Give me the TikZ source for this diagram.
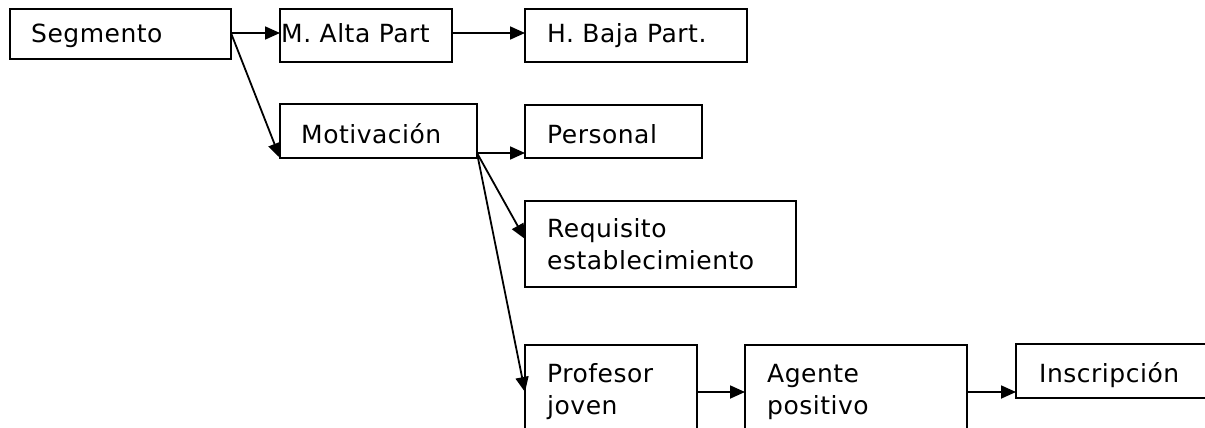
\documentclass[tikz,border=0pt]{standalone}
\usepackage{fontspec}
\setmainfont{DejaVu Sans}[LetterSpace=2]
\usetikzlibrary{arrows.meta}
\begin{document}
\begin{tikzpicture}[x=1pt,y=-1pt,
  box/.style={draw, line width=2pt, rectangle, inner sep=0pt, outer sep=0pt, anchor=north west},
  lbl/.style={anchor=base west, inner sep=0pt, font=\fontsize{25}{32}\selectfont},
  conn/.style={line width=1.8pt, -{Triangle[length=15pt,width=13pt]}}]
\useasboundingbox (0,0) rectangle (1205,428);
\clip (0,0) rectangle (1205,428);
% boxes
\node[box, minimum width=221pt, minimum height=50pt] (seg) at (10,9) {};
\node[box, minimum width=172pt, minimum height=53pt] (alta) at (280,9) {};
\node[box, minimum width=222pt, minimum height=53pt] (baja) at (525,9) {};
\node[box, minimum width=197pt, minimum height=54pt] (mot) at (280,104) {};
\node[box, minimum width=177pt, minimum height=53pt] (per) at (525,105) {};
\node[box, minimum width=271pt, minimum height=86pt] (req) at (525,201) {};
\node[box, minimum width=172pt, minimum height=120pt] (prof) at (525,345) {};
\node[box, minimum width=222pt, minimum height=120pt] (age) at (745,345) {};
\node[box, minimum width=240pt, minimum height=54pt] (ins) at (1016,344) {};
% texts
\node[lbl] (tseg) at (31,43) {Segmento};
\node[lbl] (talta) at (281,43) {M. Alta Part};
\node[lbl] (tbaja) at (547,43) {H. Baja Part.};
\node[lbl] (tmot) at (301,143) {Motivación};
\node[lbl] (tper) at (547,143) {Personal};
\node[lbl] (treq) at (547,237) {\begin{tabular}[t]{@{}l@{}}Requisito\\establecimiento\end{tabular}};
\node[lbl] (tprof) at (547,382) {\begin{tabular}[t]{@{}l@{}}Profesor\\joven\end{tabular}};
\node[lbl] (tage) at (767,382) {\begin{tabular}[t]{@{}l@{}}Agente\\positivo\end{tabular}};
\node[lbl] (tins) at (1039,382) {Inscripción};
% connectors
\draw[conn] ([yshift=-24pt]seg.north east) -- ([yshift=-24pt]alta.north west);
\draw[conn] ([yshift=-24pt]seg.north east) -- (mot.south west);
\draw[conn] ([yshift=-24pt]alta.north east) -- ([yshift=-24pt]baja.north west);
\draw[conn] ([yshift=5pt]mot.south east) -- ([yshift=5pt]per.south west);
\draw[conn] ([yshift=5pt]mot.south east) -- ([yshift=-38pt]req.north west);
\draw[conn] ([yshift=5pt]mot.south east) -- ([yshift=-47pt]prof.north west);
\draw[conn] ([yshift=-47pt]prof.north east) -- ([yshift=-47pt]age.north west);
\draw[conn] ([yshift=-47pt]age.north east) -- ([yshift=-48pt]ins.north west);
\end{tikzpicture}
\end{document}
